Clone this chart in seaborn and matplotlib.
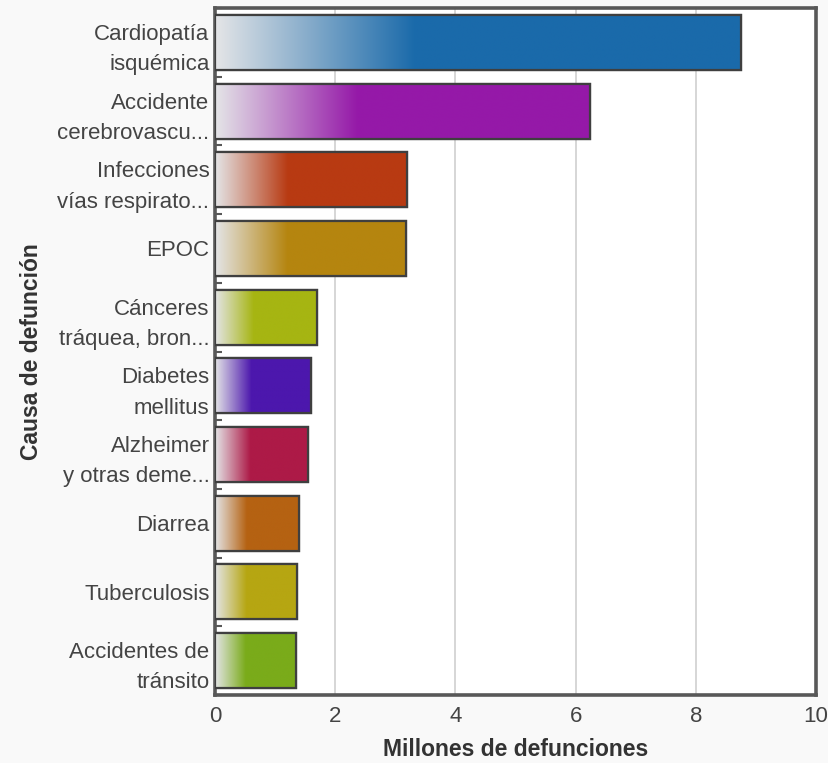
import numpy as np
import pandas as pd
import matplotlib
matplotlib.use("Agg")
import matplotlib.pyplot as plt
from matplotlib.colors import to_rgb
import seaborn as sns

causes = [
    "Cardiopatía\nisquémica",
    "Accidente\ncerebrovascu...",
    "Infecciones\nvías respirato...",
    "EPOC",
    "Cánceres\ntráquea, bron...",
    "Diabetes\nmellitus",
    "Alzheimer\ny otras deme...",
    "Diarrea",
    "Tuberculosis",
    "Accidentes de\ntránsito",
]
deaths_millions = [8.76, 6.24, 3.19, 3.17, 1.69, 1.59, 1.54, 1.39, 1.37, 1.34]
bar_colors = [
    "#1a6aaa", "#9519a8", "#b83a12", "#b5850f", "#a6b512",
    "#4c17ad", "#ad1a47", "#b56212", "#b6a612", "#7aab1a",
]
x_ticks = [0, 2, 4, 6, 8, 10]

sns.set_theme(style="white")
plt.rcParams["font.family"] = ["Liberation Sans", "DejaVu Sans"]

df = pd.DataFrame({"causa": causes, "valor": deaths_millions})

fig = plt.figure(figsize=(8.29, 7.63), dpi=100, facecolor="#f9f9f9")
ax = fig.add_axes([0.2594, 0.0891, 0.7249, 0.9004])
ax.set_facecolor("white")

sns.barplot(data=df, y="causa", x="valor", hue="causa", palette=bar_colors,
            orient="h", width=0.8, edgecolor="#3f3f3f", linewidth=1.6,
            saturation=1, legend=False, ax=ax, zorder=3)

# Fade each bar in from a pale grey at its base to the full colour
light = np.array(to_rgb("#e4e5e7"))
for patch, col in zip(ax.patches, bar_colors):
    x0, y0 = patch.get_x(), patch.get_y()
    w, h = patch.get_width(), patch.get_height()
    c = np.array(to_rgb(col))
    t = np.clip(np.linspace(0, 1, 400) / 0.38, 0, 1)
    grad = light[None, :] * (1 - t[:, None]) + c[None, :] * t[:, None]
    img = ax.imshow(grad[None, :, :], extent=[x0, x0 + w, y0 + h, y0],
                    aspect="auto", zorder=3.5, interpolation="bilinear")
    img.set_clip_path(patch)
    border = plt.Rectangle((x0, y0), w, h, fill=False, edgecolor="#3f3f3f",
                           linewidth=1.6, zorder=4)
    ax.add_patch(border)

ax.set_xlim(0, 10)
ax.set_ylim(len(causes) - 0.5, -0.5)
ax.set_xticks(x_ticks)
ax.set_xticklabels([str(v) for v in x_ticks])
ax.grid(axis="x", color="#d6d6d6", linewidth=1.4, zorder=0)
ax.set_axisbelow(True)

for s in ax.spines.values():
    s.set_color("#585858")
    s.set_linewidth(2.6)

ax.set_yticks(np.arange(len(causes)))
ax.set_yticklabels(causes, fontsize=16, color="#444444", linespacing=1.58)
ax.set_yticks(np.arange(len(causes) + 1) - 0.5, minor=True)
ax.tick_params(axis="y", which="major", length=0, pad=4)
ax.tick_params(axis="y", which="minor", direction="in", length=5,
               width=1.5, color="#585858", left=True)
ax.tick_params(axis="x", length=0, labelsize=16, labelcolor="#444444", pad=8)

ax.set_xlabel("Millones de defunciones", fontsize=16.5, fontweight="bold",
              color="#333333", labelpad=8)
ax.set_ylabel("Causa de defunción", fontsize=16.5, fontweight="bold",
              color="#333333", labelpad=10)

fig.savefig("out.png", dpi=100, facecolor=fig.get_facecolor())
